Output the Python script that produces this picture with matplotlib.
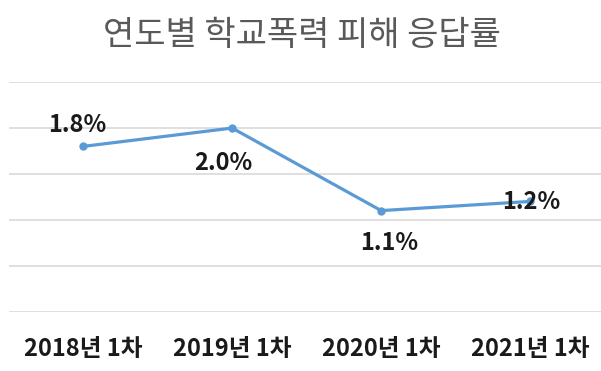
import matplotlib
matplotlib.use("Agg")
import matplotlib.pyplot as plt

plt.rcParams['font.family'] = ['Noto Sans CJK KR', 'DejaVu Sans']

categories = ["2018년 1차", "2019년 1차", "2020년 1차", "2021년 1차"]
values = [1.8, 2.0, 1.1, 1.2]
labels = ["1.8%", "2.0%", "1.1%", "1.2%"]
label_offsets_px = [(-6, 21), (-9, -35), (8, -32), (1, -1)]
title = "연도별 학교폭력 피해 응답률"

W, H = 601, 371
fig = plt.figure(figsize=(W / 100, H / 100), dpi=100)
left, right = 8.6, 604.7
bottom, top = 371 - 311.5, 371 - 82.2
ax = fig.add_axes([left / W, bottom / H, (right - left) / W, (top - bottom) / H])

x = list(range(len(categories)))
ax.plot(x, values, color="#5B9BD5", linewidth=2.3, marker="o", markersize=5,
        solid_capstyle="round", zorder=3)
ax.set_xlim(-0.5, 3.5)
ax.set_ylim(0, 2.5)
ax.set_yticks([0, 0.5, 1.0, 1.5, 2.0, 2.5])
ax.yaxis.grid(True, color="#D9D9D9", linewidth=1.2)
ax.set_axisbelow(True)
ax.set_xticks(x)
ax.set_xticklabels(categories, fontsize=17, fontweight="bold", color="#1a1a1a")
ax.tick_params(axis="x", length=0, pad=18)
ax.tick_params(axis="y", length=0, labelleft=False)
for s in ax.spines.values():
    s.set_visible(False)

for xi, v, lab, (dx, dy) in zip(x, values, labels, label_offsets_px):
    ax.annotate(lab, (xi, v), xytext=(dx, dy), textcoords="offset pixels",
                ha="center", va="center", fontsize=17, fontweight="bold",
                color="#1a1a1a", zorder=4)

fig.text(302 / W, 1 - 36 / H, title, ha="center", va="center",
         fontsize=24.5, color="#595959")

fig.savefig("out.png", dpi=100, facecolor="white")
